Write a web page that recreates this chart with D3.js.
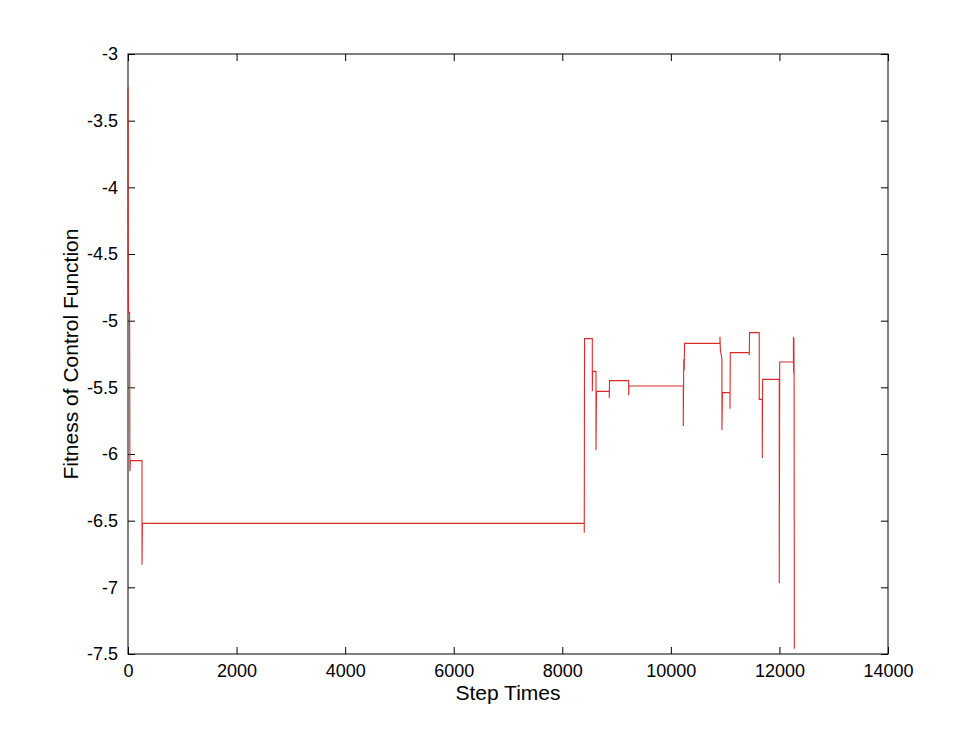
<!DOCTYPE html>
<html>
<head>
<meta charset="utf-8">
<script src="https://cdn.jsdelivr.net/npm/d3@7"></script>
<style>
  body { margin: 0; background: #fff; }
  svg text { font-family: 'Liberation Sans', Arial, sans-serif; fill: #000; }
</style>
</head>
<body>
<div id="chart"></div>
<script>
// step times and fitness values
let steps = [0, 5, 10, 30, 35, 45, 258, 258, 265,
  8405, 8405, 8410, 8553, 8553, 8560, 8621, 8621, 8630,
  8866, 8866, 8870, 9223, 9223, 9230, 10229, 10229, 10238, 10246, 10252,
  10905, 10905, 10912, 10941, 10941, 10950, 11089, 11089, 11095,
  11444, 11444, 11450, 11628, 11628, 11684, 11684, 11690,
  11997, 11997, 12005, 12258, 12258, 12262, 12266, 12270, 12275]
let fitness = [-3.25, -4.6, -4.94, -4.94, -6.13, -6.05, -6.05, -6.83, -6.52,
  -6.52, -6.59, -5.135, -5.135, -5.53, -5.38, -5.38, -5.97, -5.53,
  -5.53, -5.58, -5.45, -5.45, -5.56, -5.49, -5.49, -5.79, -5.29, -5.37, -5.17,
  -5.17, -5.12, -5.22, -5.29, -5.82, -5.54, -5.54, -5.66, -5.24,
  -5.24, -5.26, -5.09, -5.09, -5.59, -5.59, -6.03, -5.44,
  -5.44, -6.97, -5.31, -5.31, -5.12, -5.39, -5.13, -5.38, -7.46]

let xTicks = [0, 2000, 4000, 6000, 8000, 10000, 12000, 14000]
let yTicks = [-3, -3.5, -4, -4.5, -5, -5.5, -6, -6.5, -7, -7.5]

let w = 980
let h = 735
let margin = { top: 54, right: 92, bottom: 81, left: 128 }
let iw = w - margin.left - margin.right
let ih = h - margin.top - margin.bottom

let svg = d3.select('#chart').append('svg')
  .attr('width', w)
  .attr('height', h)

let g = svg.append('g')
  .attr('transform', 'translate(' + margin.left + ',' + margin.top + ')')

let x = d3.scaleLinear().domain([0, 14000]).range([0, iw])
let y = d3.scaleLinear().domain([-7.5, -3]).range([ih, 0])

// left axis with inward ticks
g.append('g')
  .call(d3.axisLeft(y).tickValues(yTicks).tickSize(-7).tickPadding(10).tickFormat(d => String(d)))
// right mirror ticks
g.append('g')
  .attr('transform', 'translate(' + iw + ',0)')
  .call(d3.axisRight(y).tickValues(yTicks).tickSize(-7).tickFormat(''))
// bottom axis
g.append('g')
  .attr('transform', 'translate(0,' + ih + ')')
  .call(d3.axisBottom(x).tickValues(xTicks).tickSize(-7).tickPadding(10).tickFormat(d3.format('d')))
// top mirror ticks
g.append('g')
  .call(d3.axisTop(x).tickValues(xTicks).tickSize(-7).tickFormat(''))

svg.selectAll('.domain').remove()
svg.selectAll('.tick line').attr('stroke', '#000')
svg.selectAll('.tick text').attr('font-size', 18).attr('font-family', 'Liberation Sans, Arial, sans-serif')

// frame
g.append('rect')
  .attr('x', 0)
  .attr('y', 0)
  .attr('width', iw)
  .attr('height', ih)
  .attr('fill', 'none')
  .attr('stroke', '#000')
  .attr('stroke-width', 1)

let data = steps.map(function (s, i) {
  return { step: s, value: fitness[i] }
})

let line = d3.line()
  .x(d => x(d.step))
  .y(d => y(d.value))

g.append('path')
  .datum(data)
  .attr('d', line)
  .attr('fill', 'none')
  .attr('stroke', '#dc2a2a')
  .attr('stroke-width', 1.1)

// axis titles
svg.append('text')
  .attr('x', margin.left + iw / 2)
  .attr('y', 700)
  .attr('text-anchor', 'middle')
  .attr('font-size', 21)
  .text('Step Times')

svg.append('text')
  .attr('transform', 'translate(78,' + (margin.top + ih / 2) + ') rotate(-90)')
  .attr('text-anchor', 'middle')
  .attr('font-size', 21)
  .text('Fitness of Control Function')
</script>
</body>
</html>
